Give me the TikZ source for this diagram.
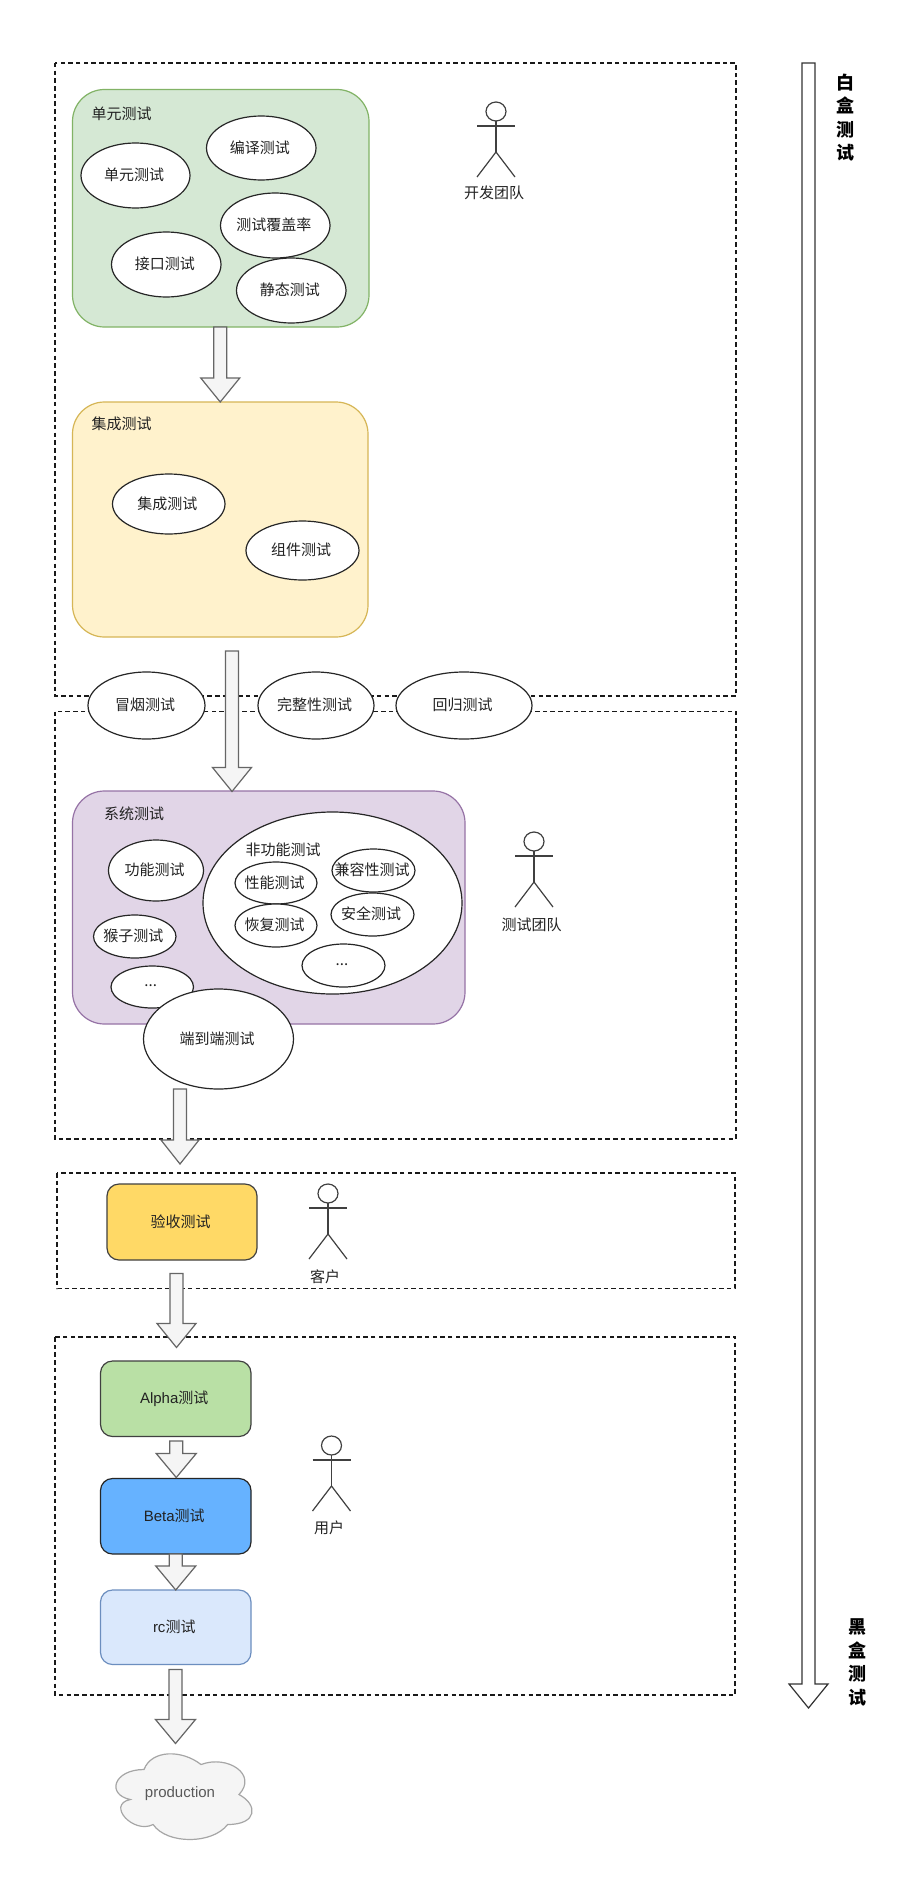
\documentclass[tikz,border=0pt]{standalone}
\usepackage{fontspec}
\setmainfont{Liberation Sans}
\newfontfamily\cjk{Noto Sans CJK SC}
\usetikzlibrary{shapes.geometric,calc}
\definecolor{txt}{HTML}{222222}
\tikzset{
  base/.style={font=\fontsize{15}{17}\selectfont\cjk,text=txt,inner sep=0pt,outer sep=0pt},
  oval/.style={base,ellipse,draw=black!85,fill=white,line width=1.2pt},
  region/.style={draw=black!90,dash pattern=on 4.5pt off 3.2pt,line width=1.1pt},
  panel/.style={base,rectangle,rounded corners=32pt,line width=1.2pt},
  stage/.style={base,rectangle,rounded corners=12pt,line width=1.2pt},
  label/.style={base},
  blockarrow/.style={draw=black!60,fill=black!4,line width=1.2pt,line join=miter},
  figure stroke/.style={draw=black!75,line width=1.2pt},
  sidetext/.style={base,font=\fontsize{18}{23.6}\selectfont\cjk\bfseries,align=center,text=black}
}
\newcommand{\ovaltext}[1]{\raisebox{2.5pt}{\makebox[0pt][c]{\kern-3pt #1}}}
\newcommand{\ovalnode}[6]{%
  \pgfmathsetmacro{\cxv}{(#2+#3)/2}\pgfmathsetmacro{\cyv}{(#4+#5)/2}%
  \pgfmathsetmacro{\wv}{#3-#2}\pgfmathsetmacro{\hv}{#5-#4}%
  \node[oval,minimum width=\wv pt,minimum height=\hv pt] (#1) at (\cxv,\cyv) {\ovaltext{#6}};}
\newcommand{\rectnode}[7]{%
  \pgfmathsetmacro{\cxv}{(#3+#4)/2}\pgfmathsetmacro{\cyv}{(#5+#6)/2}%
  \pgfmathsetmacro{\wv}{#4-#3}\pgfmathsetmacro{\hv}{#6-#5}%
  \node[#2,minimum width=\wv pt,minimum height=\hv pt] (#1) at (\cxv,\cyv) {#7};}
% start, tip, head half width, head length
\newcommand{\blockarrow}[5][blockarrow]{%
  \draw[#1] ($(#2)+(-6.5,0)$) -- ($(#3)+(-6.5,-#5)$) -- ($(#3)+(-#4,-#5)$) -- (#3)
    -- ($(#3)+(#4,-#5)$) -- ($(#3)+(6.5,-#5)$) -- ($(#2)+(6.5,0)$) -- cycle;}
\newcommand{\stickman}[3]{%
  \node[draw=black!75,line width=1.2pt,ellipse,minimum width=20pt,minimum height=19pt,inner sep=0pt,outer sep=0pt] (#1) at (#2,#3+9.5) {};
  \draw[figure stroke] (#1.south) -- ++(0,31) coordinate (#1hip);
  \draw[figure stroke] ($(#1.south)+(-19,5)$) -- ($(#1.south)+(19,5)$);
  \draw[figure stroke] ($(#1hip)+(-19,25)$) -- (#1hip) -- ($(#1hip)+(19,25)$);}
\begin{document}
\begin{tikzpicture}[x=1pt,y=-1pt]
\useasboundingbox (0,0) rectangle (921,1900);
\fill[white] (0,0) rectangle (921,1900);

% dashed regions
\draw[region] (55,63) rectangle (736,696);
\draw[region] (55,711.5) rectangle (736,1139);
\draw[region] (57,1173) rectangle (735,1288.5);
\draw[region] (55,1337) rectangle (735,1695);

% unit test panel
\rectnode{unitp}{panel,draw={rgb,255:red,130;green,179;blue,102},fill={rgb,255:red,213;green,232;blue,212}}{72.5}{369}{89.5}{327}{}
\node[label] (unitl) at (121.5,114) {单元测试};
\ovalnode{o1}{206.5}{316}{116}{180}{编译测试}
\ovalnode{o2}{81}{190}{143}{208}{单元测试}
\ovalnode{o3}{220.5}{330}{193}{258}{测试覆盖率}
\ovalnode{o4}{111.5}{221}{232}{297}{接口测试}
\ovalnode{o5}{236.5}{346}{258}{323}{静态测试}

% integration panel
\rectnode{integ}{panel,draw={rgb,255:red,214;green,182;blue,86},fill={rgb,255:red,255;green,242;blue,204}}{72.5}{368}{402}{637}{}
\node[label] (integl) at (121.5,424) {集成测试};
\ovalnode{o6}{112.5}{225}{474}{534}{集成测试}
\ovalnode{o7}{246}{359}{521}{580}{组件测试}
\blockarrow{integ.north |- unitp.south}{integ.north}{19.5}{24}

% smoke row
\ovalnode{s1}{88}{205}{672}{739}{冒烟测试}
\ovalnode{s2}{258}{374}{672}{739}{完整性测试}
\ovalnode{s3}{396}{532}{672}{739}{回归测试}
\stickman{dev}{496}{102}
\node[label] (devl) at (494,193) {开发团队};

% system panel
\rectnode{sys}{panel,draw={rgb,255:red,150;green,115;blue,166},fill={rgb,255:red,225;green,213;blue,231}}{72.5}{465}{791}{1024}{}
\node[label] (sysl) at (134,814) {系统测试};
\coordinate (a2s) at (232,651);
\coordinate (a2e) at (232,791.5);
\blockarrow{a2s}{a2e}{19.5}{24}
\ovalnode{o8}{108.5}{203.5}{840}{901}{功能测试}
\ovalnode{o9}{93.5}{176}{915}{958}{猴子测试}
\ovalnode{o10}{111}{193.5}{966}{1008}{...}
\rectnode{big}{base,ellipse,draw=black!85,fill=white,line width=1.2pt}{203}{462}{812}{994}{}
\node[label] (bigl) at (283,850) {非功能测试};
\ovalnode{p1}{235}{317}{862}{904}{性能测试}
\ovalnode{p2}{332}{415}{849}{892}{兼容性测试}
\ovalnode{p3}{235}{317}{904}{947}{恢复测试}
\ovalnode{p4}{331}{414}{893}{936}{安全测试}
\ovalnode{p5}{302}{385}{944}{987}{...}
\ovalnode{e2e}{143.5}{293.5}{989}{1089}{端到端测试}
\stickman{tester}{534}{832}
\node[label] (testerl) at (531.5,925) {测试团队};
\coordinate (a3s) at (180,1089);
\coordinate (a3e) at (180,1164);
\blockarrow{a3s}{a3e}{19}{24}

% acceptance
\rectnode{accept}{stage,draw=black!75,fill={rgb,255:red,255;green,217;blue,102}}{107}{257}{1184}{1260}{\raisebox{2pt}{\kern-3pt 验收测试}}
\stickman{customer}{328}{1184}
\node[label] (customerl) at (325,1277) {客户};
\coordinate (a4s) at (176.5,1273.5);
\coordinate (a4e) at (176.5,1347.5);
\blockarrow{a4s}{a4e}{19.5}{24}

% release stages
\rectnode{alpha}{stage,draw=black!75,fill={rgb,255:red,185;green,224;blue,165}}{100.5}{251}{1361}{1436.5}{\raisebox{2pt}{\kern-3pt {\rmfamily Alpha}测试}}
\rectnode{beta}{stage,draw=black!85,fill={rgb,255:red,102;green,178;blue,255}}{100.5}{251}{1478.5}{1554}{\raisebox{2pt}{\kern-3pt {\rmfamily Beta}测试}}
\rectnode{rc}{stage,draw={rgb,255:red,108;green,142;blue,191},fill={rgb,255:red,218;green,232;blue,252}}{100.5}{251}{1590}{1664.5}{\raisebox{2pt}{\kern-3pt {\rmfamily rc}测试}}
\blockarrow{$(alpha.south)+(0.5,4.5)$}{$(beta.north)+(0.5,-1)$}{20}{24}
\blockarrow{beta.south}{rc.north}{20}{24}
\stickman{user}{331.5}{1436}
\node[label] (userl) at (329,1528) {用户};
\coordinate (a7s) at (175.5,1669.5);
\coordinate (a7e) at (175.5,1743.5);
\blockarrow{a7s}{a7e}{20}{24}

% production cloud
\begin{scope}[shift={(106,1744.5)},x=152pt,y=-100pt]
\draw[draw=black!35,fill=black!4,line width=1.2pt]
  (0.25,0.25) .. controls (0.05,0.25) and (0,0.5) .. (0.16,0.55)
  .. controls (0,0.6) and (0.18,0.9) .. (0.31,0.8)
  .. controls (0.4,1) and (0.7,1) .. (0.8,0.8)
  .. controls (1,0.8) and (1,0.6) .. (0.875,0.5)
  .. controls (1,0.3) and (0.8,0.1) .. (0.625,0.2)
  .. controls (0.5,0.05) and (0.3,0.05) .. (0.25,0.25) -- cycle;
\end{scope}
\node[label,text=black!65,font=\fontsize{15}{17}\selectfont] (prod) at (180,1793.5) {production};

% side scale arrow
\coordinate (sidea) at (808.5,63);
\coordinate (sideb) at (808.5,1708);
\blockarrow[draw=black!80,fill=white,line width=1.2pt]{sidea}{sideb}{19.5}{24}
\node[sidetext] (white) at (845,117.5) {白\\盒\\测\\试};
\node[sidetext] (black) at (857,1662.5) {黑\\盒\\测\\试};
\end{tikzpicture}
\end{document}
